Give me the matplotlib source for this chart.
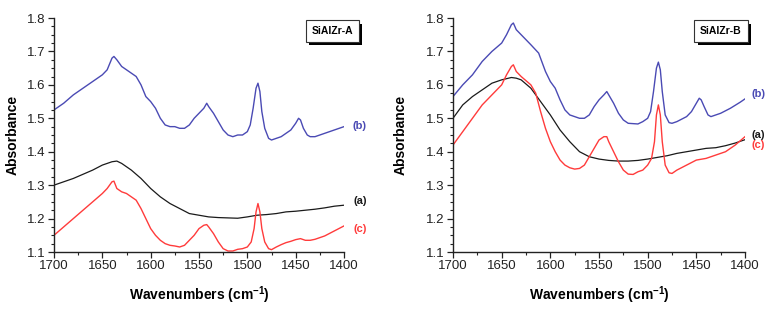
import matplotlib
matplotlib.use("Agg")
import matplotlib.pyplot as plt
from matplotlib.ticker import MultipleLocator
import matplotlib.patheffects as pe

plt.rcParams['font.family'] = ['Liberation Sans', 'DejaVu Sans']

# ---- Data: SiAlZr-A ----
a_b_x = [1700,1690,1680,1670,1660,1650,1645,1640,1638,1635,1630,1625,1620,1615,1610,1605,1600,1595,1590,1585,1580,1575,1570,1565,1560,1555,1550,1545,1542,1540,1535,1530,1525,1520,1515,1510,1505,1500,1497,1494,1491,1489,1487,1485,1482,1478,1475,1470,1465,1460,1455,1450,1447,1445,1442,1438,1435,1430,1420,1410,1400]
a_b_y = [1.525,1.545,1.57,1.59,1.61,1.63,1.645,1.68,1.685,1.675,1.655,1.645,1.635,1.625,1.60,1.565,1.55,1.53,1.50,1.48,1.475,1.475,1.47,1.47,1.48,1.50,1.515,1.53,1.545,1.535,1.515,1.49,1.465,1.45,1.445,1.45,1.45,1.46,1.48,1.53,1.59,1.605,1.58,1.52,1.47,1.44,1.435,1.44,1.445,1.455,1.465,1.485,1.50,1.495,1.47,1.45,1.445,1.445,1.455,1.465,1.475]

a_a_x = [1700,1680,1660,1650,1640,1635,1630,1620,1610,1600,1590,1580,1570,1560,1550,1540,1530,1520,1510,1500,1490,1480,1470,1460,1450,1440,1430,1420,1410,1400]
a_a_y = [1.30,1.32,1.345,1.36,1.37,1.372,1.365,1.345,1.32,1.29,1.265,1.245,1.23,1.215,1.21,1.205,1.203,1.202,1.201,1.205,1.21,1.212,1.215,1.22,1.222,1.225,1.228,1.232,1.237,1.24]

a_c_x = [1700,1690,1680,1670,1660,1650,1645,1640,1638,1635,1630,1625,1620,1615,1610,1605,1600,1595,1590,1585,1580,1575,1570,1565,1560,1555,1550,1545,1542,1540,1535,1530,1525,1520,1515,1510,1505,1500,1496,1493,1491,1489,1487,1485,1482,1478,1475,1470,1465,1460,1455,1450,1445,1440,1435,1430,1420,1410,1400]
a_c_y = [1.15,1.175,1.20,1.225,1.25,1.275,1.29,1.31,1.312,1.29,1.28,1.275,1.265,1.255,1.23,1.20,1.17,1.15,1.135,1.125,1.12,1.118,1.115,1.12,1.135,1.15,1.17,1.18,1.182,1.175,1.155,1.13,1.11,1.103,1.103,1.108,1.11,1.115,1.13,1.17,1.22,1.245,1.22,1.17,1.13,1.11,1.107,1.115,1.122,1.128,1.132,1.137,1.14,1.135,1.135,1.138,1.148,1.163,1.178]

# ---- Data: SiAlZr-B ----
b_b_x = [1700,1690,1680,1670,1660,1650,1645,1640,1638,1635,1630,1620,1612,1605,1600,1595,1590,1585,1580,1570,1565,1560,1555,1550,1545,1542,1540,1535,1530,1525,1520,1510,1505,1500,1497,1494,1491,1489,1487,1485,1482,1478,1475,1470,1460,1455,1450,1447,1445,1442,1438,1435,1425,1415,1405,1400]
b_b_y = [1.565,1.60,1.63,1.67,1.70,1.725,1.75,1.78,1.785,1.765,1.75,1.72,1.695,1.64,1.61,1.59,1.555,1.525,1.51,1.50,1.50,1.51,1.535,1.555,1.57,1.58,1.57,1.545,1.515,1.495,1.485,1.483,1.49,1.50,1.52,1.58,1.65,1.668,1.645,1.58,1.51,1.487,1.485,1.49,1.505,1.52,1.545,1.56,1.555,1.535,1.51,1.505,1.515,1.53,1.548,1.558]

b_a_x = [1700,1690,1680,1670,1660,1650,1640,1635,1630,1620,1610,1600,1590,1580,1570,1560,1550,1540,1530,1520,1510,1500,1490,1480,1470,1460,1450,1440,1430,1420,1410,1400]
b_a_y = [1.50,1.54,1.565,1.585,1.605,1.615,1.622,1.62,1.615,1.59,1.55,1.51,1.465,1.43,1.40,1.385,1.378,1.374,1.372,1.372,1.374,1.378,1.383,1.388,1.395,1.40,1.405,1.41,1.412,1.418,1.426,1.436]

b_c_x = [1700,1690,1680,1670,1660,1650,1645,1640,1638,1635,1630,1620,1615,1610,1605,1600,1595,1590,1585,1580,1575,1570,1565,1560,1555,1550,1545,1542,1540,1535,1530,1525,1520,1515,1510,1505,1500,1496,1493,1491,1489,1487,1485,1482,1478,1475,1470,1460,1450,1440,1430,1420,1410,1400]
b_c_y = [1.42,1.46,1.50,1.54,1.57,1.60,1.63,1.655,1.66,1.64,1.625,1.60,1.575,1.52,1.47,1.43,1.40,1.375,1.36,1.352,1.348,1.35,1.36,1.385,1.41,1.435,1.445,1.445,1.43,1.40,1.37,1.345,1.333,1.332,1.34,1.345,1.36,1.38,1.43,1.51,1.54,1.51,1.43,1.36,1.337,1.335,1.345,1.36,1.375,1.38,1.39,1.40,1.42,1.445]

panel_titles = ["SiAlZr-A", "SiAlZr-B"]
series_labels = ["(b)", "(a)", "(c)"]
label_y_A = [1.478, 1.252, 1.169]
label_y_B = [1.574, 1.451, 1.421]

x_ticks = [1700, 1650, 1600, 1550, 1500, 1450, 1400]
y_ticks = [1.1, 1.2, 1.3, 1.4, 1.5, 1.6, 1.7, 1.8]

col_b = "#4a4ab4"
col_a = "#1a1a1a"
col_c = "#ff3b3b"

fig = plt.figure(figsize=(7.75, 3.11), dpi=100)
W, H = 775, 311
axA = fig.add_axes([54/W, 1-252/H, (344-54)/W, (252-18)/H])
axB = fig.add_axes([453/W, 1-252/H, (745-453)/W, (252-18)/H])

panels = [
    (axA, (a_b_x, a_b_y), (a_a_x, a_a_y), (a_c_x, a_c_y), panel_titles[0], label_y_A, 1.055, 0.96, -0.141),
    (axB, (b_b_x, b_b_y), (b_a_x, b_a_y), (b_c_x, b_c_y), panel_titles[1], label_y_B, 1.045, 0.918, -0.18),
]

for ax, sb, sa, sc, title, ly, lx, bx, ylx in panels:
    ax.plot(sb[0], sb[1], color=col_b, lw=1.0)
    ax.plot(sa[0], sa[1], color=col_a, lw=0.9)
    ax.plot(sc[0], sc[1], color=col_c, lw=1.0)
    ax.set_xlim(1700, 1400)
    ax.set_ylim(1.1, 1.8)
    ax.set_xticks(x_ticks)
    ax.set_yticks(y_ticks)
    ax.set_yticklabels([f"{v:.1f}" for v in y_ticks])
    ax.xaxis.set_minor_locator(MultipleLocator(25))
    ax.yaxis.set_minor_locator(MultipleLocator(0.025))
    for s in ["top", "right"]:
        ax.spines[s].set_visible(False)
    for s in ["left", "bottom"]:
        ax.spines[s].set_linewidth(1.0)
        ax.spines[s].set_color("#222222")
    ax.tick_params(which="major", direction="out", length=4, width=0.9, labelsize=9.5, colors="#222222", pad=2)
    ax.tick_params(which="minor", direction="out", length=2.5, width=0.8, colors="#222222")
    ax.set_xlabel("Wavenumbers (cm$^{\\mathregular{-1}}$)", fontsize=10, fontweight="bold", va="center")
    ax.xaxis.set_label_coords(0.5, -0.184)
    ax.set_ylabel("Absorbance", fontsize=10, fontweight="bold", va="center")
    ax.yaxis.set_label_coords(ylx, 0.5)
    for lab, yv, c in zip(series_labels, ly, [col_b, col_a, col_c]):
        ax.text(lx, yv, lab, transform=ax.get_yaxis_transform(), color=c,
                fontsize=8, fontweight="bold", ha="center", va="center", clip_on=False)
    t = ax.text(bx, 0.944, title, transform=ax.transAxes, fontsize=7.5, fontweight="bold",
                ha="center", va="center", color="black", clip_on=False,
                bbox=dict(boxstyle="square,pad=0.55", fc="white", ec="#333333", lw=0.8))
    t.get_bbox_patch().set_path_effects([
        pe.SimplePatchShadow(offset=(2.5, -2.5), shadow_rgbFace="black", alpha=1.0),
        pe.Normal()])

fig.savefig("out.png", dpi=100)
